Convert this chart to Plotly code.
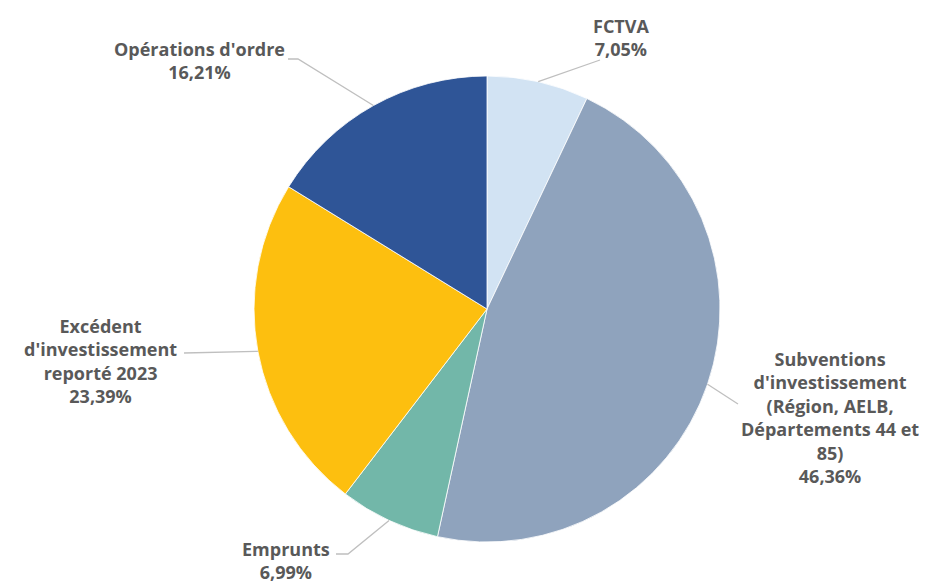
import math
import plotly.graph_objects as go

labels = ["FCTVA",
          "Subventions<br>d'investissement<br>(Région, AELB,<br>Départements 44 et<br>85)",
          "Emprunts",
          "Excédent<br>d'investissement<br>reporté 2023",
          "Opérations d'ordre"]
values = [7.05, 46.36, 6.99, 23.39, 16.21]
pct_text = ["7,05%", "46,36%", "6,99%", "23,39%", "16,21%"]
colors = ["#d2e3f3", "#8fa3bd", "#72b7a9", "#fdbf0f", "#2f5597"]

W, H = 935, 585
cx, cy, r = 487, 309, 233  # pie centre/radius in pixels (layout)

# label placement (pixel centres) and elbow points near the text
label_pos = [(621, 38), (830, 417), (286, 560), (100, 361), (199, 61)]
elbows = [[(600, 60)], [(738, 404)], [(348, 554), (336, 554)], [(184, 353)], [(298, 59), (288, 59)]]

fig = go.Figure(go.Pie(
    labels=[l.replace("<br>", " ") for l in labels],
    values=values,
    sort=False,
    direction="clockwise",
    rotation=0,
    marker=dict(colors=colors, line=dict(color="white", width=0.8)),
    textinfo="none",
    hoverinfo="label+percent",
    domain=dict(x=[(cx - r) / W, (cx + r) / W], y=[1 - (cy + r) / H, 1 - (cy - r) / H]),
))

def px2paper(x, y):
    return x / W, 1 - y / H

total = sum(values)
cum = 0
shapes, annotations = [], []
for i, v in enumerate(values):
    mid = (cum + v / 2) / total * 2 * math.pi
    cum += v
    ex, ey = cx + r * math.sin(mid), cy - r * math.cos(mid)
    pts = [(ex, ey)] + elbows[i]
    path = ""
    for j, (x, y) in enumerate(pts):
        px, py = px2paper(x, y)
        path += ("M" if j == 0 else " L") + f"{px:.5f},{py:.5f}"
    shapes.append(dict(type="path", path=path, xref="paper", yref="paper",
                       line=dict(color="#bfbfbf", width=1.3)))
    lx, ly = px2paper(*label_pos[i])
    annotations.append(dict(x=lx, y=ly, xref="paper", yref="paper",
                            text=labels[i] + "<br>" + pct_text[i],
                            showarrow=False, xanchor="center", yanchor="middle", align="center",
                            font=dict(family="Open Sans", size=18, color="#595959", weight="bold")))

fig.update_layout(
    width=W, height=H,
    margin=dict(l=0, r=0, t=0, b=0),
    showlegend=False,
    paper_bgcolor="white",
    plot_bgcolor="white",
    shapes=shapes,
    annotations=annotations,
)

fig.write_html("out.html", config={"displayModeBar": False},
               post_script="document.body.style.margin='0';")
